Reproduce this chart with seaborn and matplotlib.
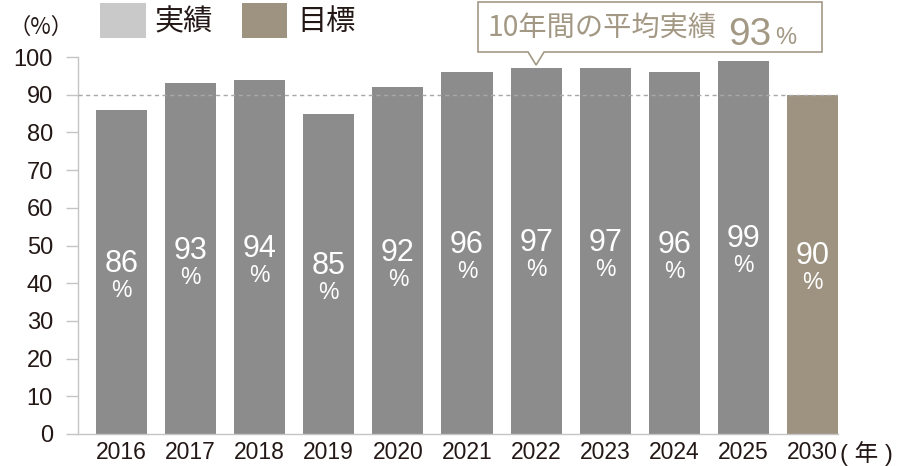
import numpy as np
import pandas as pd
import matplotlib
matplotlib.use("Agg")
import matplotlib.pyplot as plt
from matplotlib.patches import Rectangle, Polygon
import seaborn as sns

# ---- data ----
years = ["2016", "2017", "2018", "2019", "2020", "2021", "2022", "2023", "2024", "2025", "2030"]
values = [86, 93, 94, 85, 92, 96, 97, 97, 96, 99, 90]
kinds = ["実績"] * 10 + ["目標"]
avg_value = 93
target_line = 90
yticks = list(range(0, 101, 10))

BAR = "#8c8c8c"
TARGET = "#9e9380"
LEG_GRAY = "#c9c9c9"
TXT = "#231815"
TAN = "#a39884"
AXC = "#c4c4c4"

sns.set_theme(style="white")
plt.rcParams["font.family"] = ["Liberation Sans", "Noto Sans CJK JP", "DejaVu Sans"]

W, H = 906, 466
fig = plt.figure(figsize=(W / 100, H / 100), dpi=100)
L, R, T, B = 78, 838, 57, 434
ax = fig.add_axes([L / W, 1 - B / H, (R - L) / W, (B - T) / H])

def fp(x, y):
    return (x / W, 1 - y / H)

df = pd.DataFrame({"year": years, "value": values, "kind": kinds})
sns.barplot(data=df, x="year", y="value", hue="kind",
            palette={"実績": BAR, "目標": TARGET}, dodge=False, width=0.74,
            saturation=1, legend=False, ax=ax, zorder=2, linewidth=0)

ax.set_xlim(-0.63, len(years) - 1 + 0.37)
ax.set_ylim(0, 100)
ax.set_yticks(yticks)
ax.set_yticklabels([str(t) for t in yticks])
ax.set_xlabel("")
ax.set_ylabel("")
for s in ["top", "right"]:
    ax.spines[s].set_visible(False)
for s in ["left", "bottom"]:
    ax.spines[s].set_color(AXC)
    ax.spines[s].set_linewidth(1.0)
ax.tick_params(axis="y", length=9, width=1.0, color=AXC, pad=9, labelsize=17, labelcolor=TXT, left=True)
ax.tick_params(axis="x", length=0, pad=5, labelsize=16.5, labelcolor=TXT)
ax.grid(False)

ax.axhline(target_line, color="#a8a8a8", lw=1.0, ls=(0, (3, 2.5)), zorder=3)

# bar value labels
for i, v in enumerate(values):
    ax.annotate(str(v), (i, v / 2), xytext=(0, 0), textcoords="offset points",
                ha="center", va="baseline", color="white", fontsize=22, zorder=4)
    ax.annotate("%", (i, v / 2), xytext=(0, -18), textcoords="offset points",
                ha="center", va="baseline", color="white", fontsize=16.5, zorder=4)

# axis unit labels
fig.text(*fp(9, 27), "（%）", ha="left", va="center", fontsize=16, color=TXT,
         family=["Noto Sans CJK JP", "Liberation Sans"])
fig.text(*fp(840, 454), "( 年 )", ha="left", va="center", fontsize=17, color=TXT,
         family=["Liberation Sans", "Noto Sans CJK JP"])

# legend
for (x0, x1), col, lab, tx in [((100, 146), LEG_GRAY, "実績", 154), ((242, 287), TARGET, "目標", 297)]:
    fig.add_artist(Rectangle(fp(x0, 38), (x1 - x0) / W, 35 / H, transform=fig.transFigure,
                             facecolor=col, edgecolor="none"))
    fig.text(*fp(tx, 22), lab, ha="left", va="center", fontsize=21, color=TXT,
             family=["Noto Sans CJK JP"])

# callout
fig.canvas.draw()
tipx = ax.transData.transform((6, 0))[0]
bx0, bx1, by0, by1 = 478, 822, 2, 52
poly = [fp(bx0, by0), fp(bx1, by0), fp(bx1, by1), fp(tipx + 8, by1), fp(tipx, 65),
        fp(tipx - 8, by1), fp(bx0, by1)]
fig.add_artist(Polygon(poly, closed=True, transform=fig.transFigure, facecolor="white",
                       edgecolor=TAN, linewidth=1.2, zorder=5))
fig.text(*fp(488, 28), "10年間の平均実績", ha="left", va="center", fontsize=20.3, color=TAN,
         family=["Noto Sans CJK JP"], zorder=6)
fig.text(*fp(728, 45), str(avg_value), ha="left", va="baseline", fontsize=28, color=TAN, zorder=6)
fig.text(*fp(775, 44), "%", ha="left", va="baseline", fontsize=17, color=TAN, zorder=6)

fig.savefig("out.png", dpi=100)
